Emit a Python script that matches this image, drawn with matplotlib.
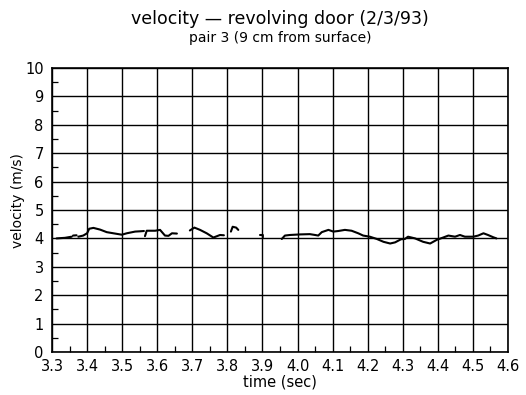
import numpy as np
import matplotlib
matplotlib.use("Agg")
import matplotlib.pyplot as plt
from matplotlib.ticker import MultipleLocator

time = [3.313, 3.325, 3.337, 3.356, np.nan,
        3.360, 3.370, np.nan,
        3.375, 3.389, 3.400, 3.406, 3.418, 3.437, 3.456, 3.475, 3.499, 3.513, 3.537, 3.551, 3.562, np.nan,
        3.565, 3.570, 3.594, 3.608, 3.622, 3.632, 3.642, 3.656, np.nan,
        3.693, 3.706, 3.722, 3.741, 3.760, 3.779, 3.790, np.nan,
        3.810, 3.815, 3.825, 3.831, np.nan,
        3.893, 3.901, 3.901, np.nan,
        3.955, 3.964, 3.978, 4.007, 4.035, 4.050, 4.059, 4.069, 4.088, 4.102, 4.116, 4.135,
        4.154, 4.173, 4.187, 4.206, 4.226, 4.245, 4.264, 4.278, 4.295, 4.306, 4.315, 4.335,
        4.358, 4.378, 4.397, 4.415, 4.430, 4.449, 4.463, 4.477, 4.501, 4.515, 4.530, 4.543,
        4.558, 4.567]
velocity = [4.00, 4.01, 4.02, 4.06, np.nan,
            4.10, 4.11, np.nan,
            4.06, 4.10, 4.18, 4.34, 4.37, 4.31, 4.22, 4.18, 4.13, 4.18, 4.24, 4.25, 4.26, np.nan,
            4.08, 4.27, 4.27, 4.30, 4.10, 4.09, 4.18, 4.17, np.nan,
            4.28, 4.38, 4.30, 4.18, 4.03, 4.12, 4.11, np.nan,
            4.24, 4.41, 4.38, 4.30, np.nan,
            4.12, 4.12, 4.04, np.nan,
            3.98, 4.10, 4.12, 4.14, 4.15, 4.12, 4.10, 4.22, 4.30, 4.24, 4.26, 4.30,
            4.27, 4.18, 4.10, 4.06, 3.98, 3.88, 3.82, 3.86, 3.97, 3.98, 4.06, 4.00,
            3.88, 3.82, 3.95, 4.03, 4.10, 4.06, 4.12, 4.06, 4.06, 4.10, 4.18, 4.12,
            4.04, 4.00]

x_ticks = [3.3, 3.4, 3.5, 3.6, 3.7, 3.8, 3.9, 4.0, 4.1, 4.2, 4.3, 4.4, 4.5, 4.6]
y_ticks = list(range(0, 11))

plt.rcParams['font.family'] = ['DejaVu Sans']

fig = plt.figure(figsize=(5.26, 3.95), dpi=100)
ax = fig.add_axes([0.0989, 0.1089, 0.8669, 0.7189])

ax.plot(time, velocity, color='black', lw=1.5, solid_capstyle='round')

ax.set_xlim(3.3, 4.6)
ax.set_ylim(0, 10)
ax.set_xticks(x_ticks)
ax.set_xticklabels([f"{t:.1f}" for t in x_ticks])
ax.set_yticks(y_ticks)
ax.xaxis.set_minor_locator(MultipleLocator(0.05))
ax.yaxis.set_minor_locator(MultipleLocator(0.5))
ax.tick_params(which='major', direction='in', length=0, labelsize=10.5, colors='black')
ax.tick_params(axis='x', which='major', pad=5)
ax.tick_params(axis='y', which='major', pad=6)
ax.tick_params(which='minor', direction='in', length=4, width=0.9, colors='black')
ax.grid(True, which='major', color='black', lw=1.0)
ax.set_axisbelow(True)
for s in ax.spines.values():
    s.set_color('black')
    s.set_linewidth(1.2)

ax.set_xlabel('time (sec)', fontsize=10.5, labelpad=0.5)
ax.set_ylabel('velocity (m/s)', fontsize=10)
ax.yaxis.set_label_coords(-0.06, 0.535)

fig.text(0.532, 0.953, 'velocity — revolving door (2/3/93)', ha='center', va='center', fontsize=12.5)
fig.text(0.532, 0.903, 'pair 3 (9 cm from surface)', ha='center', va='center', fontsize=10)

fig.savefig('out.png', dpi=100)
